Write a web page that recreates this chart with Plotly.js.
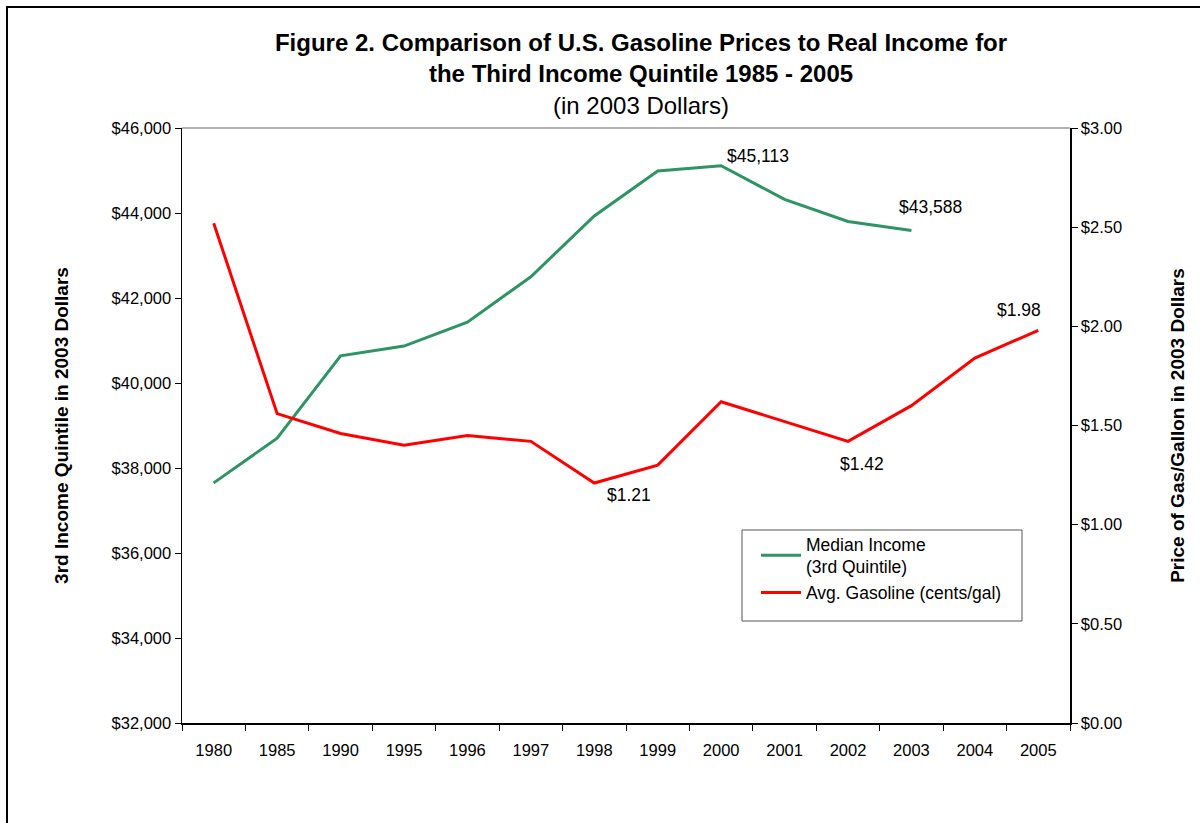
<!DOCTYPE html>
<html>
<head>
<meta charset="utf-8">
<script src="https://cdn.plot.ly/plotly-3.0.1.min.js"></script>
<style>
  html, body { margin: 0; padding: 0; background: #fff; }
  #wrap { position: relative; width: 1200px; height: 823px; overflow: hidden; }
  #chart { position: absolute; left: 0; top: 0; width: 1200px; height: 823px; }
  #frame { position: absolute; left: 6px; top: 6px; width: 1300px; height: 900px;
           border-left: 2px solid #000; border-top: 2px solid #000; pointer-events: none; }
</style>
</head>
<body>
<div id="wrap">
  <div id="chart"></div>
  <div id="frame"></div>
</div>
<script>
const years = ['1980','1985','1990','1995','1996','1997','1998','1999','2000','2001','2002','2003','2004','2005'];
const medianIncome = [37650, 38700, 40640, 40870, 41430, 42500, 43930, 44990, 45113, 44320, 43800, 43588, null, null];
const gasPrice = [2.52, 1.56, 1.46, 1.40, 1.45, 1.42, 1.21, 1.30, 1.62, 1.52, 1.42, 1.60, 1.84, 1.98];

const labelIncome = [{year: '2000', value: 45113, text: '$45,113'}, {year: '2003', value: 43588, text: '$43,588'}];
const labelGas = [{year: '1998', value: 1.21, text: '$1.21'}, {year: '2002', value: 1.42, text: '$1.42'}, {year: '2005', value: 1.98, text: '$1.98'}];

const FONT = 'Arial, "Liberation Sans", sans-serif';
const idx = y => years.indexOf(y);

const traces = [
  {
    x: years, y: medianIncome, type: 'scatter', mode: 'lines',
    name: 'Median Income<br>(3rd Quintile)', yaxis: 'y',
    line: {color: '#2E9464', width: 3}, connectgaps: false, hoverinfo: 'skip'
  },
  {
    x: years, y: gasPrice, type: 'scatter', mode: 'lines',
    name: 'Avg. Gasoline (cents/gal)', yaxis: 'y2',
    line: {color: '#FF0000', width: 3}, hoverinfo: 'skip'
  }
];

const annStyle = {showarrow: false, font: {family: FONT, size: 17.5, color: '#000'}};
const annotations = [
  Object.assign({x: idx(labelIncome[0].year), y: labelIncome[0].value, xref: 'x', yref: 'y', text: labelIncome[0].text, xanchor: 'left', yanchor: 'bottom', xshift: 4, yshift: -2}, annStyle),
  Object.assign({x: idx(labelIncome[1].year), y: labelIncome[1].value, xref: 'x', yref: 'y', text: labelIncome[1].text, xanchor: 'left', yanchor: 'bottom', xshift: -14, yshift: 12}, annStyle),
  Object.assign({x: idx(labelGas[0].year), y: labelGas[0].value, xref: 'x', yref: 'y2', text: labelGas[0].text, xanchor: 'left', yanchor: 'top', xshift: 11, yshift: 0}, annStyle),
  Object.assign({x: idx(labelGas[1].year), y: labelGas[1].value, xref: 'x', yref: 'y2', text: labelGas[1].text, xanchor: 'center', yanchor: 'top', xshift: 14, yshift: -11}, annStyle),
  Object.assign({x: idx(labelGas[2].year), y: labelGas[2].value, xref: 'x', yref: 'y2', text: labelGas[2].text, xanchor: 'right', yanchor: 'bottom', xshift: 5, yshift: 8}, annStyle)
];

// plot area: x 182..1070, y 128..723
const px = v => (v - 182) / 888;
const py = v => (723 - v) / 595;

const layout = {
  width: 1200, height: 823,
  margin: {l: 182, r: 130, t: 128, b: 100},
  paper_bgcolor: '#fff', plot_bgcolor: '#fff',
  font: {family: FONT, size: 16, color: '#000'},
  showlegend: true,
  title: {
    text: '<b>Figure 2. Comparison of U.S. Gasoline Prices to Real Income for</b><br><b>the Third Income Quintile 1985 - 2005</b><br>(in 2003 Dollars)',
    font: {family: FONT, size: 24, color: '#000'},
    x: 0.5342, xanchor: 'center', y: 0.9377, yanchor: 'top'
  },
  xaxis: {
    type: 'category', categoryorder: 'array', categoryarray: years,
    range: [-0.5, years.length - 0.5], autorange: false,
    showgrid: false, zeroline: false,
    showline: true, linecolor: '#000', linewidth: 1.5,
    ticks: 'outside', ticklen: 6, tickcolor: '#000', tickson: 'boundaries',
    tickangle: 0, ticklabelstandoff: 12,
    tickfont: {family: FONT, size: 16.5, color: '#000'}
  },
  yaxis: {
    range: [32000, 46000], autorange: false, dtick: 2000, tick0: 32000,
    tickprefix: '$', tickformat: ',.0f',
    showgrid: false, zeroline: false,
    showline: true, linecolor: '#000', linewidth: 1.5,
    ticks: 'outside', ticklen: 6, tickcolor: '#000',
    tickfont: {family: FONT, size: 16.5, color: '#000'},
    title: {text: '<b>3rd Income Quintile in 2003 Dollars</b>', font: {family: FONT, size: 19, color: '#000'}, standoff: 38}
  },
  yaxis2: {
    overlaying: 'y', side: 'right',
    range: [0, 3], autorange: false, dtick: 0.5, tick0: 0,
    tickprefix: '$', tickformat: '.2f',
    showgrid: false, zeroline: false,
    showline: true, linecolor: '#000', linewidth: 1.5,
    ticks: 'outside', ticklen: 6, tickcolor: '#000',
    tickfont: {family: FONT, size: 16.5, color: '#000'},
    title: {text: '<b>Price of Gas/Gallon in 2003 Dollars</b>', font: {family: FONT, size: 19, color: '#000'}, standoff: 49}
  },
  legend: {
    x: px(756), y: py(526), xanchor: 'left', yanchor: 'top',
    bgcolor: 'rgba(0,0,0,0)', borderwidth: 0,
    font: {family: FONT, size: 17.5, color: '#000'},
    itemwidth: 40,
    tracegroupgap: 0
  },
  shapes: [
    {type: 'line', xref: 'paper', yref: 'paper', x0: 0, x1: 1, y0: 1, y1: 1, line: {color: '#999', width: 1.5}},
    {type: 'rect', xref: 'paper', yref: 'paper', x0: px(742), x1: px(1022), y0: py(621), y1: py(530), line: {color: '#555', width: 1}, fillcolor: 'rgba(0,0,0,0)'}
  ],
  annotations: annotations
};

Plotly.newPlot('chart', traces, layout, {displayModeBar: false, staticPlot: true});
</script>
</body>
</html>
